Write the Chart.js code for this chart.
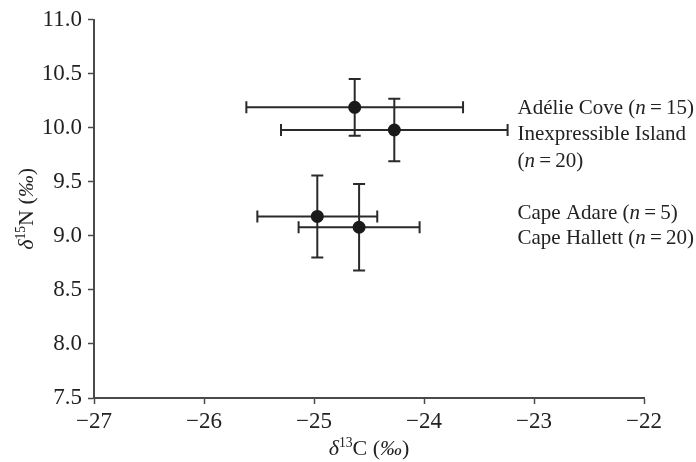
<!DOCTYPE html>
<html>
<head>
<meta charset="utf-8">
<script src="https://cdn.jsdelivr.net/npm/chart.js@4/dist/chart.umd.min.js"></script>
<style>
  html, body { margin: 0; padding: 0; background: #fff; }
  #wrap { width: 696px; height: 462px; position: relative; }
</style>
</head>
<body>
<div id="wrap"><canvas id="chart"></canvas></div>
<script>
const groups = ["Adélie Cove", "Inexpressible Island", "Cape Adare", "Cape Hallett"];
const sampleSizes = [15, 20, 5, 20];
const d13C = [-24.63, -24.27, -24.97, -24.59];
const d13CErr = [0.985, 1.03, 0.545, 0.55];
const d15N = [10.19, 9.98, 9.18, 9.08];
const d15NErr = [0.263, 0.29, 0.38, 0.4];
const xTicks = [-27, -26, -25, -24, -23, -22];
const yTicks = [7.5, 8.0, 8.5, 9.0, 9.5, 10.0, 10.5, 11.0];

const SERIF = "'Liberation Serif', 'Times New Roman', serif";
const AXIS = "#4a4a4a";
const INK = "#222";

Chart.defaults.font.family = SERIF;
Chart.defaults.color = INK;

// draw a run of text pieces, some italic / superscript
function drawRich(ctx, parts, x, y, size, align) {
  const fontOf = (p) => (p.italic ? "italic " : "") + (p.sup ? size * 0.62 : size) + "px " + SERIF;
  let total = 0;
  parts.forEach((p) => { ctx.font = fontOf(p); total += ctx.measureText(p.t).width; });
  let cx = align === "center" ? x - total / 2 : x;
  ctx.textAlign = "left";
  ctx.textBaseline = "alphabetic";
  parts.forEach((p) => {
    ctx.font = fontOf(p);
    ctx.fillText(p.t, cx, p.sup ? y - size * 0.36 : y);
    cx += ctx.measureText(p.t).width;
  });
}

const nPart = (n) => [{ t: "(" }, { t: "n", italic: true }, { t: "\u2009=\u2009" + n + ")" }];
const labelLines = [
  [{ t: groups[0] + " " }, ...nPart(sampleSizes[0])],
  [{ t: groups[1] }],
  nPart(sampleSizes[1]),
  [{ t: groups[2] + " " }, ...nPart(sampleSizes[2])],
  [{ t: groups[3] + " " }, ...nPart(sampleSizes[3])],
];

const extras = {
  id: "extras",
  beforeDatasetsDraw(chart) {
    const { ctx, scales: { x, y } } = chart;
    ctx.save();
    ctx.strokeStyle = "#2a2a2a";
    ctx.lineWidth = 2;
    const cap = 6;
    d13C.forEach((cx, i) => {
      const px = x.getPixelForValue(cx);
      const py = y.getPixelForValue(d15N[i]);
      const x0 = x.getPixelForValue(cx - d13CErr[i]);
      const x1 = x.getPixelForValue(cx + d13CErr[i]);
      const y0 = y.getPixelForValue(d15N[i] + d15NErr[i]);
      const y1 = y.getPixelForValue(d15N[i] - d15NErr[i]);
      ctx.beginPath();
      ctx.moveTo(x0, py); ctx.lineTo(x1, py);
      ctx.moveTo(x0, py - cap); ctx.lineTo(x0, py + cap);
      ctx.moveTo(x1, py - cap); ctx.lineTo(x1, py + cap);
      ctx.moveTo(px, y0); ctx.lineTo(px, y1);
      ctx.moveTo(px - cap, y0); ctx.lineTo(px + cap, y0);
      ctx.moveTo(px - cap, y1); ctx.lineTo(px + cap, y1);
      ctx.stroke();
    });
    ctx.restore();
  },
  afterDraw(chart) {
    const { ctx, chartArea, scales: { x, y } } = chart;
    ctx.save();
    ctx.fillStyle = INK;
    // site labels
    const lx = x.getPixelForValue(-23.15);
    const ly = [10.19, 9.95, 9.7, 9.22, 8.99];
    labelLines.forEach((parts, i) => {
      drawRich(ctx, parts, lx, y.getPixelForValue(ly[i]) + 7, 21, "left");
    });
    // x title
    drawRich(ctx, [{ t: "δ", italic: true }, { t: "13", sup: true }, { t: "C (" }, { t: "‰", italic: true }, { t: ")" }],
      (chartArea.left + chartArea.right) / 2, 455, 22, "center");
    // y title
    ctx.translate(33, (chartArea.top + chartArea.bottom) / 2);
    ctx.rotate(-Math.PI / 2);
    drawRich(ctx, [{ t: "δ", italic: true }, { t: "15", sup: true }, { t: "N (" }, { t: "‰", italic: true }, { t: ")" }],
      0, 0, 22, "center");
    ctx.restore();
  },
};

new Chart(document.getElementById("chart"), {
  type: "scatter",
  data: {
    datasets: [
      {
        data: d13C.map((v, i) => ({ x: v, y: d15N[i] })),
        backgroundColor: "#1a1a1a",
        borderWidth: 0,
        pointRadius: 6.5,
        pointHoverRadius: 6.5,
      },
    ],
  },
  options: {
    responsive: true,
    maintainAspectRatio: false,
    animation: false,
    layout: { padding: { top: 19, right: 52, left: 0, bottom: 0 } },
    plugins: { legend: { display: false }, tooltip: { enabled: false } },
    scales: {
      x: {
        type: "linear",
        min: -27,
        max: -22,
        afterBuildTicks: (s) => { s.ticks = xTicks.map((v) => ({ value: v })); },
        afterFit: (s) => { s.height = 64; },
        ticks: {
          padding: 4,
          color: INK,
          font: { size: 23 },
          callback: (v) => String(v).replace("-", "\u2212"),
        },
        grid: { drawOnChartArea: false, drawTicks: true, tickLength: 6, tickWidth: 1.5, color: AXIS },
        border: { display: true, color: AXIS, width: 2 },
      },
      y: {
        type: "linear",
        min: 7.5,
        max: 11,
        afterBuildTicks: (s) => { s.ticks = yTicks.map((v) => ({ value: v })); },
        afterFit: (s) => { s.width = 94; },
        ticks: {
          padding: 6,
          color: INK,
          font: { size: 23 },
          callback: (v) => Number(v).toFixed(1),
        },
        grid: { drawOnChartArea: false, drawTicks: true, tickLength: 6, tickWidth: 1.5, color: AXIS },
        border: { display: true, color: AXIS, width: 2 },
      },
    },
  },
  plugins: [extras],
});
</script>
</body>
</html>
